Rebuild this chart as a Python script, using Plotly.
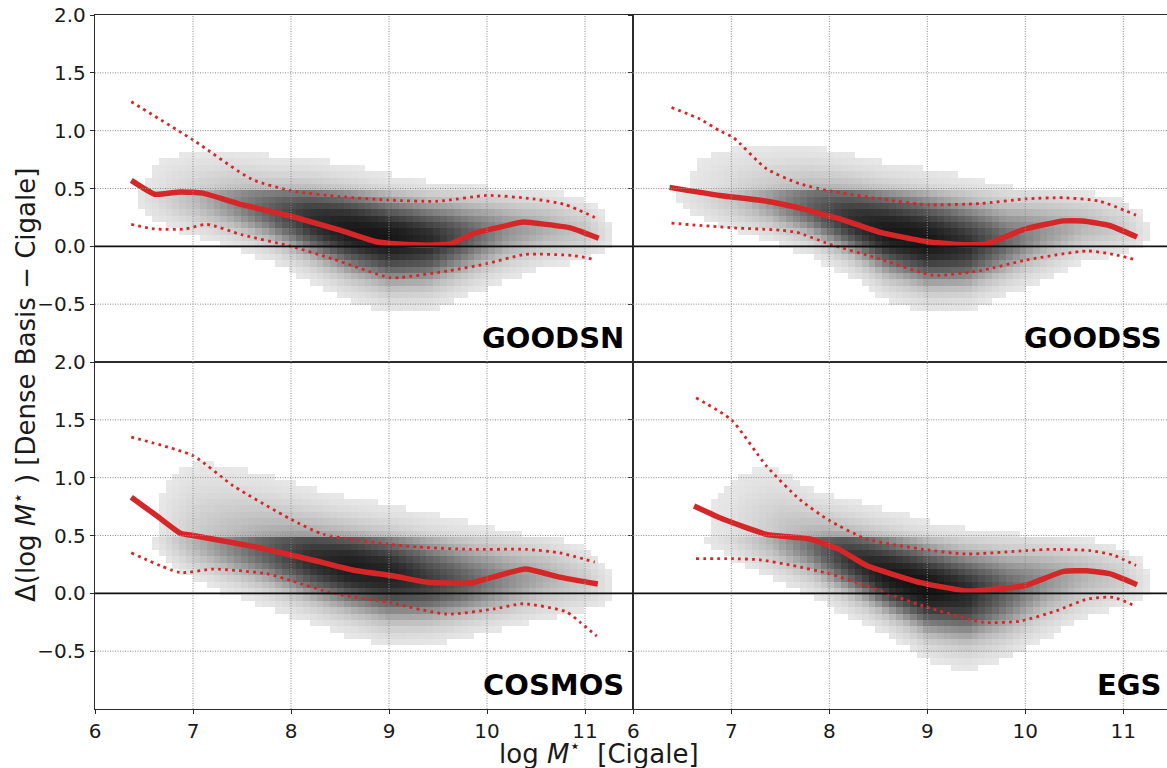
import numpy as np
import plotly.graph_objects as go

# ---------------------------------------------------------------- data
FIELDS = ["GOODSN", "GOODSS", "COSMOS", "EGS"]

# running median of the offset
med_x = {
    "GOODSN": [6.37, 6.61, 6.87, 7.10, 7.50, 8.00, 8.50, 8.87, 9.10, 9.40, 9.62, 9.86, 10.10, 10.37, 10.60, 10.85, 11.14],
    "GOODSS": [6.37, 6.88, 7.36, 7.70, 8.00, 8.10, 8.52, 9.00, 9.33, 9.60, 10.00, 10.39, 10.59, 10.86, 11.14],
    "COSMOS": [6.37, 6.63, 6.87, 7.00, 7.65, 8.00, 8.26, 8.64, 9.05, 9.39, 9.83, 10.39, 10.74, 11.13],
    "EGS":    [6.62, 6.92, 7.36, 7.80, 8.10, 8.38, 8.92, 9.40, 9.74, 10.01, 10.39, 10.63, 10.86, 11.14],
}
med_y = {
    "GOODSN": [0.57, 0.45, 0.47, 0.46, 0.36, 0.26, 0.14, 0.04, 0.02, 0.01, 0.02, 0.11, 0.16, 0.21, 0.19, 0.16, 0.07],
    "GOODSS": [0.51, 0.44, 0.39, 0.33, 0.26, 0.24, 0.12, 0.04, 0.015, 0.02, 0.15, 0.22, 0.22, 0.18, 0.08],
    "COSMOS": [0.83, 0.67, 0.52, 0.50, 0.40, 0.33, 0.28, 0.20, 0.15, 0.095, 0.09, 0.21, 0.14, 0.08],
    "EGS":    [0.755, 0.64, 0.51, 0.47, 0.38, 0.24, 0.095, 0.02, 0.04, 0.07, 0.19, 0.195, 0.17, 0.075],
}

# upper percentile
hi_x = {
    "GOODSN": [6.37, 7.00, 7.60, 8.00, 8.50, 9.00, 9.50, 10.00, 10.47, 10.80, 11.10],
    "GOODSS": [6.39, 6.68, 6.88, 7.02, 7.36, 7.70, 8.00, 8.52, 9.00, 9.54, 10.00, 10.39, 10.76, 11.13],
    "COSMOS": [6.37, 7.00, 7.41, 8.00, 8.33, 9.00, 9.30, 9.83, 10.40, 10.74, 11.10],
    "EGS":    [6.64, 7.00, 7.36, 7.70, 8.00, 8.38, 8.96, 9.40, 10.01, 10.25, 10.66, 10.90, 11.13],
}
hi_y = {
    "GOODSN": [1.25, 0.92, 0.58, 0.48, 0.43, 0.40, 0.39, 0.44, 0.41, 0.36, 0.25],
    "GOODSS": [1.20, 1.10, 1.00, 0.94, 0.67, 0.54, 0.48, 0.41, 0.36, 0.37, 0.41, 0.42, 0.39, 0.27],
    "COSMOS": [1.35, 1.19, 0.93, 0.64, 0.51, 0.425, 0.40, 0.38, 0.38, 0.35, 0.27],
    "EGS":    [1.69, 1.50, 1.10, 0.81, 0.63, 0.47, 0.38, 0.34, 0.37, 0.38, 0.37, 0.33, 0.24],
}

# lower percentile
lo_x = {
    "GOODSN": [6.37, 6.61, 6.92, 7.14, 7.50, 8.00, 8.43, 9.00, 9.11, 9.62, 10.00, 10.39, 10.88, 11.08],
    "GOODSS": [6.39, 7.02, 7.50, 7.67, 8.00, 8.52, 9.06, 9.54, 10.00, 10.63, 10.90, 11.10],
    "COSMOS": [6.37, 6.87, 7.21, 7.75, 8.00, 8.43, 9.00, 9.59, 10.07, 10.37, 10.81, 10.95, 11.12],
    "EGS":    [6.64, 7.00, 7.29, 7.63, 8.00, 8.38, 8.96, 9.57, 9.95, 10.32, 10.63, 10.90, 11.12],
}
lo_y = {
    "GOODSN": [0.19, 0.15, 0.15, 0.19, 0.10, 0.00, -0.11, -0.27, -0.27, -0.21, -0.15, -0.07, -0.08, -0.11],
    "GOODSS": [0.20, 0.16, 0.14, 0.12, 0.02, -0.11, -0.25, -0.21, -0.12, -0.04, -0.07, -0.11],
    "COSMOS": [0.35, 0.18, 0.21, 0.17, 0.11, 0.00, -0.08, -0.18, -0.135, -0.09, -0.16, -0.25, -0.37],
    "EGS":    [0.30, 0.30, 0.29, 0.24, 0.17, 0.065, -0.11, -0.25, -0.24, -0.15, -0.05, -0.035, -0.11],
}

# shape of the 2-D source density in each field: ridge, outer envelope, peak level
cloud_x = [6.3, 6.6, 7.0, 7.4, 7.8, 8.2, 8.6, 9.0, 9.4, 9.8, 10.2, 10.6, 11.0, 11.35]
cloud_mid = {
    "GOODSN": [0.45, 0.45, 0.42, 0.37, 0.30, 0.22, 0.14, 0.07, 0.05, 0.08, 0.14, 0.16, 0.13, 0.08],
    "GOODSS": [0.45, 0.45, 0.42, 0.38, 0.32, 0.22, 0.12, 0.04, 0.00, 0.03, 0.12, 0.18, 0.15, 0.08],
    "COSMOS": [0.55, 0.55, 0.45, 0.40, 0.35, 0.28, 0.22, 0.16, 0.10, 0.08, 0.10, 0.14, 0.10, 0.06],
    "EGS":    [0.60, 0.60, 0.55, 0.50, 0.42, 0.30, 0.15, 0.05, 0.00, 0.02, 0.10, 0.15, 0.12, 0.06],
}
cloud_top = {
    "GOODSN": [1.00, 1.05, 1.00, 0.95, 0.85, 0.80, 0.72, 0.65, 0.60, 0.60, 0.58, 0.55, 0.50, 0.40],
    "GOODSS": [1.20, 1.20, 1.10, 1.00, 0.95, 0.85, 0.75, 0.70, 0.65, 0.60, 0.60, 0.55, 0.50, 0.40],
    "COSMOS": [1.30, 1.40, 1.40, 1.25, 1.10, 0.95, 0.85, 0.80, 0.75, 0.70, 0.65, 0.60, 0.50, 0.40],
    "EGS":    [1.30, 1.40, 1.45, 1.30, 1.00, 0.85, 0.75, 0.65, 0.60, 0.60, 0.60, 0.55, 0.50, 0.45],
}
cloud_bottom = {
    "GOODSN": [0.10, 0.05, 0.00, -0.05, -0.15, -0.30, -0.45, -0.55, -0.55, -0.45, -0.35, -0.25, -0.20, -0.15],
    "GOODSS": [0.10, 0.10, 0.05, 0.00, -0.10, -0.25, -0.45, -0.55, -0.55, -0.45, -0.35, -0.20, -0.15, -0.10],
    "COSMOS": [0.20, 0.15, 0.05, -0.05, -0.15, -0.25, -0.35, -0.45, -0.45, -0.40, -0.35, -0.30, -0.25, -0.25],
    "EGS":    [0.25, 0.25, 0.15, 0.05, -0.05, -0.20, -0.35, -0.55, -0.65, -0.60, -0.45, -0.30, -0.20, -0.15],
}
cloud_peak = {
    "GOODSN": [0.0, 0.10, 0.25, 0.42, 0.60, 0.82, 0.95, 0.97, 0.85, 0.60, 0.40, 0.30, 0.20, 0.0],
    "GOODSS": [0.0, 0.08, 0.20, 0.38, 0.58, 0.80, 0.95, 0.97, 0.82, 0.55, 0.38, 0.27, 0.17, 0.0],
    "COSMOS": [0.0, 0.05, 0.28, 0.45, 0.62, 0.82, 0.93, 0.90, 0.75, 0.58, 0.42, 0.30, 0.18, 0.0],
    "EGS":    [0.0, 0.03, 0.12, 0.30, 0.52, 0.78, 0.95, 1.00, 0.85, 0.58, 0.40, 0.28, 0.17, 0.0],
}
ABOVE_HALF_LEVEL = 0.6   # the bins above +0.5 dex are visibly sparser

X_TICKS = [6, 7, 8, 9, 10, 11]
Y_TICKS = [-0.5, 0.0, 0.5, 1.0, 1.5, 2.0]
Y_TICK_TEXT = ["\u22120.5", "0.0", "0.5", "1.0", "1.5", "2.0"]

# ---------------------------------------------------------------- layout geometry
W, H = 1167, 768
ML, MR, MT, MB = 95, 0, 15, 59
PX_PER_DEX = 98.0
plot_w = W - ML - MR
plot_h = H - MT - MB
split = 538.3 / plot_w
left_range = [6, 6 + split * plot_w / PX_PER_DEX]
right_range = [6, 6 + (1 - split) * plot_w / PX_PER_DEX]

RED = "#d62728"
FONT = "DejaVu Sans"

# binning of the 2-D histogram
BIN_DX, BIN_DY = 0.07, 0.055
xb = np.arange(6.3 + BIN_DX / 2, 11.4, BIN_DX)
yb = np.arange(-1 + BIN_DY / 2, 2.0, BIN_DY)


def density(field):
    mid = np.interp(xb, cloud_x, cloud_mid[field])
    top = np.interp(xb, cloud_x, cloud_top[field])
    bot = np.interp(xb, cloud_x, cloud_bottom[field])
    pk = np.interp(xb, cloud_x, cloud_peak[field])
    Y = yb[:, None]
    s = np.where(Y > mid, (top - mid) / 2.4, (mid - bot) / 2.4)
    z = pk * np.exp(-0.5 * ((Y - mid) / s) ** 2)
    z = np.where(Y > 0.5, z * ABOVE_HALF_LEVEL, z)
    return np.where(z < 0.04, np.nan, z)


panels = [
    # field, axis suffix, x domain, y domain, x range, bottom row, left column
    ("GOODSN", "", [0, split], [0.5, 1], left_range, False, True),
    ("GOODSS", "2", [split, 1], [0.5, 1], right_range, False, False),
    ("COSMOS", "3", [0, split], [0, 0.5], left_range, True, True),
    ("EGS", "4", [split, 1], [0, 0.5], right_range, True, False),
]

fig = go.Figure()
shapes = []
annotations = []
greys = [[0, "#f0f0f0"], [0.25, "#bdbdbd"], [0.55, "#686868"], [0.8, "#303030"], [1, "#111111"]]

for field, sfx, xdom, ydom, xr, bottom, left in panels:
    xa, ya = "x" + sfx, "y" + sfx
    fig.add_trace(go.Heatmap(
        x=xb, y=yb, z=density(field), xaxis=xa, yaxis=ya,
        colorscale=greys, zmin=0, zmax=1, showscale=False, hoverinfo="skip",
    ))
    fig.add_trace(go.Scatter(
        x=hi_x[field], y=hi_y[field], xaxis=xa, yaxis=ya, mode="lines",
        line=dict(color=RED, width=2.8, dash="2.8px,4.2px", shape="spline", smoothing=0.6),
        hoverinfo="skip", showlegend=False,
    ))
    fig.add_trace(go.Scatter(
        x=lo_x[field], y=lo_y[field], xaxis=xa, yaxis=ya, mode="lines",
        line=dict(color=RED, width=2.8, dash="2.8px,4.2px", shape="spline", smoothing=0.6),
        hoverinfo="skip", showlegend=False,
    ))
    fig.add_trace(go.Scatter(
        x=med_x[field], y=med_y[field], xaxis=xa, yaxis=ya, mode="lines",
        line=dict(color=RED, width=5.5, shape="spline", smoothing=0.4),
        hoverinfo="skip", showlegend=False,
    ))

    axis_common = dict(showgrid=False, zeroline=False, showline=True,
                       linecolor="#2b2b2b", linewidth=1.4,
                       tickfont=dict(family=FONT, size=20, color="#1a1a1a"),
                       tickcolor="#2b2b2b", ticklen=4, tickwidth=1.2)
    xkey = "xaxis" + sfx
    ykey = "yaxis" + sfx
    fig.update_layout(**{
        xkey: dict(axis_common, domain=xdom, range=xr, anchor=ya,
                   tickvals=X_TICKS, mirror=True,
                   ticks="outside" if bottom else "",
                   showticklabels=bottom),
        ykey: dict(axis_common, domain=ydom, range=[-1, 2], anchor=xa,
                   tickvals=Y_TICKS, ticktext=Y_TICK_TEXT,
                   ticks="outside", showticklabels=left,
                   mirror=left),
    })

    # dotted grid drawn over the histogram
    for gx in X_TICKS[1:]:
        shapes.append(dict(type="line", xref=xa, yref=ya + " domain",
                           x0=gx, x1=gx, y0=0, y1=1, layer="above",
                           line=dict(color="#8a8a8a", width=1, dash="1px,1.5px")))
    for gy in Y_TICKS[:-1]:
        shapes.append(dict(type="line", xref=xa + " domain", yref=ya,
                           x0=0, x1=1, y0=gy, y1=gy, layer="above",
                           line=dict(color="#8a8a8a", width=1, dash="1px,1.5px")))
    # zero-offset reference
    shapes.append(dict(type="line", xref=xa + " domain", yref=ya,
                       x0=0, x1=1, y0=0, y1=0, layer="above",
                       line=dict(color="#111111", width=1.6)))

    annotations.append(dict(
        text="<b>%s</b>" % field, xref=xa, yref=ya, x=11.42, y=-0.79,
        xanchor="right", yanchor="middle", showarrow=False,
        font=dict(family=FONT, size=29, color="#000000"),
    ))

annotations.append(dict(
    text="log <i>M</i><sup>\u22c6</sup>  [Cigale]", xref="paper", yref="paper",
    x=(599 - ML) / plot_w, y=(709 - 752) / plot_h, xanchor="center", yanchor="middle",
    showarrow=False, font=dict(family=FONT, size=26, color="#1a1a1a"),
))
annotations.append(dict(
    text="\u0394(log <i>M</i><sup>\u22c6</sup> ) [Dense Basis \u2212 Cigale]",
    xref="paper", yref="paper", x=(24 - ML) / plot_w, y=(709 - 385) / plot_h,
    xanchor="center", yanchor="middle", textangle=-90, showarrow=False,
    font=dict(family=FONT, size=26, color="#1a1a1a"),
))

fig.update_layout(
    width=W, height=H,
    margin=dict(l=ML, r=MR, t=MT, b=MB),
    paper_bgcolor="white", plot_bgcolor="white",
    showlegend=False,
    shapes=shapes, annotations=annotations,
    font=dict(family=FONT),
)

fig.write_html("out.html")
